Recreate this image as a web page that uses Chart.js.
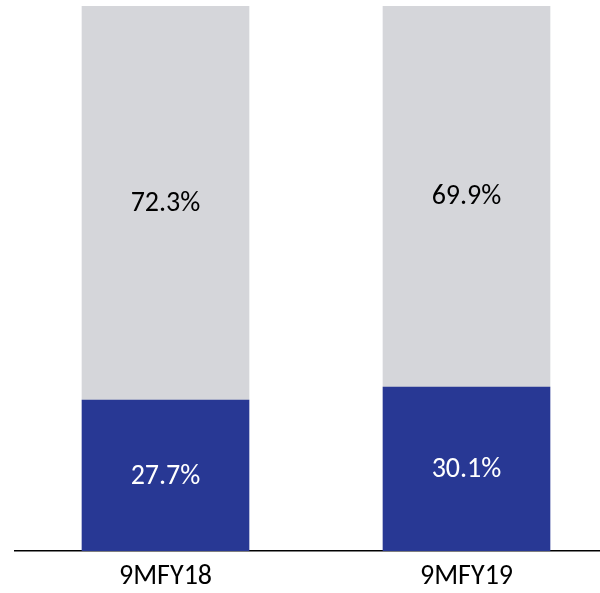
<!DOCTYPE html>
<html lang="en">
<head>
  <meta charset="UTF-8" />
  <title>Share split 9MFY18 vs 9MFY19</title>
  <script src="https://cdn.jsdelivr.net/npm/chart.js"></script>
  <style>
    html, body {
      margin: 0;
      padding: 0;
      background: #fff;
      overflow: hidden;
    }
    #chart-container {
      width: 620px;
      height: 593px;
    }
  </style>
</head>
<body>
  <div id="chart-container">
    <canvas id="shareChart" width="620" height="593"></canvas>
  </div>

  <script>
    const categories = ['9MFY18', '9MFY19'];
    const bottomShare = [27.7, 30.1];
    const topShare = [72.3, 69.9];

    const FONT = "Carlito, 'Open Sans', 'Liberation Sans', sans-serif";

    // writes the % value in the middle of each segment
    const valueLabels = {
      id: 'valueLabels',
      afterDatasetsDraw(chart) {
        const ctx = chart.ctx;
        ctx.save();
        ctx.font = '28px ' + FONT;
        ctx.textAlign = 'center';
        ctx.textBaseline = 'middle';
        chart.data.datasets.forEach((ds, i) => {
          chart.getDatasetMeta(i).data.forEach((bar, j) => {
            const mid = (bar.y + bar.base) / 2;
            ctx.fillStyle = ds.labelColor;
            ctx.fillText(ds.data[j].toFixed(1) + '%', bar.x, mid + 1);
          });
        });
        ctx.restore();
      }
    };

    const ctx = document.getElementById('shareChart').getContext('2d');
    new Chart(ctx, {
      type: 'bar',
      data: {
        labels: categories,
        datasets: [
          {
            label: 'Bottom',
            data: bottomShare,
            backgroundColor: '#283894',
            labelColor: '#ffffff',
            barThickness: 167
          },
          {
            label: 'Top',
            data: topShare,
            backgroundColor: '#d5d6da',
            labelColor: '#000000',
            barThickness: 167
          }
        ]
      },
      options: {
        responsive: false,
        animation: false,
        layout: { padding: { left: 15, right: 3, top: 6, bottom: 0 } },
        plugins: {
          legend: { display: false },
          tooltip: { enabled: false }
        },
        scales: {
          x: {
            stacked: true,
            grid: { display: false, drawTicks: false },
            border: { display: true, color: '#000', width: 1.5 },
            ticks: {
              color: '#000',
              padding: 9,
              font: { size: 28, family: FONT }
            },
            afterFit(scale) { scale.height = 42; }
          },
          y: {
            stacked: true,
            display: false,
            min: 0,
            max: 100
          }
        }
      },
      plugins: [valueLabels]
    });
  </script>
</body>
</html>
